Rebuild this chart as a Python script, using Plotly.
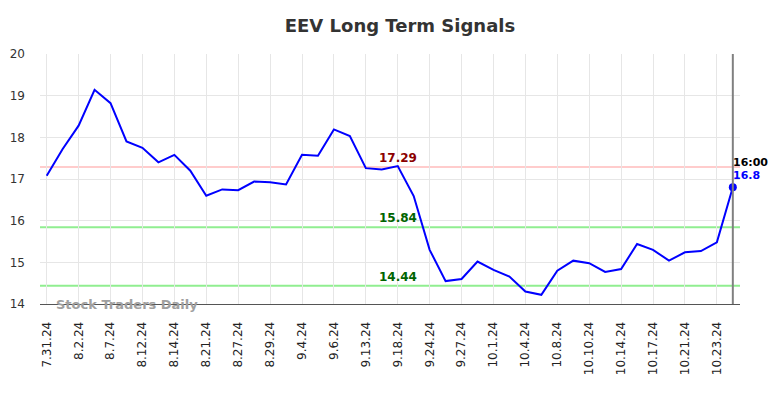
import plotly.graph_objects as go

dates = ["7.31.24","8.1.24","8.2.24","8.5.24","8.7.24","8.9.24","8.12.24","8.13.24","8.14.24","8.16.24",
         "8.21.24","8.23.24","8.27.24","8.28.24","8.29.24","8.30.24","9.4.24","9.5.24","9.6.24","9.10.24",
         "9.13.24","9.16.24","9.18.24","9.20.24","9.24.24","9.26.24","9.27.24","9.30.24","10.1.24","10.3.24",
         "10.4.24","10.7.24","10.8.24","10.9.24","10.10.24","10.11.24","10.14.24","10.16.24","10.17.24","10.18.24",
         "10.21.24","10.22.24","10.23.24","10.24.24"]
prices = [17.08,17.72,18.28,19.14,18.82,17.90,17.75,17.40,17.58,17.20,
          16.60,16.75,16.73,16.94,16.92,16.87,17.58,17.56,18.19,18.03,
          17.26,17.23,17.31,16.59,15.30,14.55,14.60,15.02,14.82,14.66,
          14.30,14.22,14.80,15.04,14.98,14.77,14.84,15.44,15.30,15.04,
          15.24,15.27,15.48,16.80]
resistance = 17.29
supports = [15.84, 14.44]
tick_labels = dates[0:43:2]

x = list(range(len(dates)))
fig = go.Figure()
fig.add_trace(go.Scatter(x=x, y=prices, mode="lines", line=dict(color="#0000ff", width=2), hoverinfo="skip"))
fig.add_trace(go.Scatter(x=[x[-1]], y=[prices[-1]], mode="markers", marker=dict(color="#0000ff", size=8), hoverinfo="skip"))

fig.add_hline(y=resistance, line=dict(color="#ffcccc", width=2), layer="below")
for s in supports:
    fig.add_hline(y=s, line=dict(color="#90ee90", width=2), layer="below")
fig.add_vline(x=x[-1], line=dict(color="#808080", width=2))

mid = 22
fig.add_annotation(x=mid, y=resistance, text="17.29", showarrow=False, yanchor="bottom", yshift=0,
                   font=dict(color="#8b0000", size=12, family="DejaVu Sans", weight="bold"))
for s in supports:
    fig.add_annotation(x=mid, y=s, text=f"{s:.2f}", showarrow=False, yanchor="bottom", yshift=0,
                       font=dict(color="#006400", size=12, family="DejaVu Sans", weight="bold"))
fig.add_annotation(x=x[-1], y=prices[-1], text="16:00", showarrow=False, xanchor="left", yanchor="bottom",
                   yshift=16, xshift=-2, font=dict(color="#000000", size=11, family="DejaVu Sans", weight="bold"))
fig.add_annotation(x=x[-1], y=prices[-1], text="16.8", showarrow=False, xanchor="left", yanchor="bottom",
                   yshift=3, xshift=-2, font=dict(color="#0000ff", size=11, family="DejaVu Sans", weight="bold"))
fig.add_annotation(xref="paper", yref="paper", x=0.02, y=0.0, text="Stock Traders Daily", showarrow=False,
                   xanchor="left", yanchor="middle", font=dict(color="#a0a0a0", size=13, family="DejaVu Sans", weight="bold"))

fig.update_layout(
    width=784, height=398,
    margin=dict(l=32, r=52, t=46, b=102),
    paper_bgcolor="white", plot_bgcolor="white",
    showlegend=False,
    title=dict(text="EEV Long Term Signals", x=0.5, xanchor="center", y=0.955, yanchor="middle",
               font=dict(size=18, color="#333333", family="DejaVu Sans", weight="bold")),
    xaxis=dict(range=[-0.42, 43.45], tickmode="array", tickvals=x[0:43:2], ticktext=tick_labels,
               tickangle=-90, showgrid=True, gridcolor="#e6e6e6", zeroline=False, automargin=False,
               showline=True, linecolor="#555555", linewidth=1, ticklabelstandoff=12,
               tickfont=dict(size=12, color="#222222", family="DejaVu Sans")),
    yaxis=dict(range=[14, 20], tickvals=[14,15,16,17,18,19,20], showgrid=True, gridcolor="#e6e6e6",
               zeroline=False, automargin=False, ticklabelstandoff=14,
               tickfont=dict(size=12, color="#333333", family="DejaVu Sans")),
)
fig.write_html("out.html")
